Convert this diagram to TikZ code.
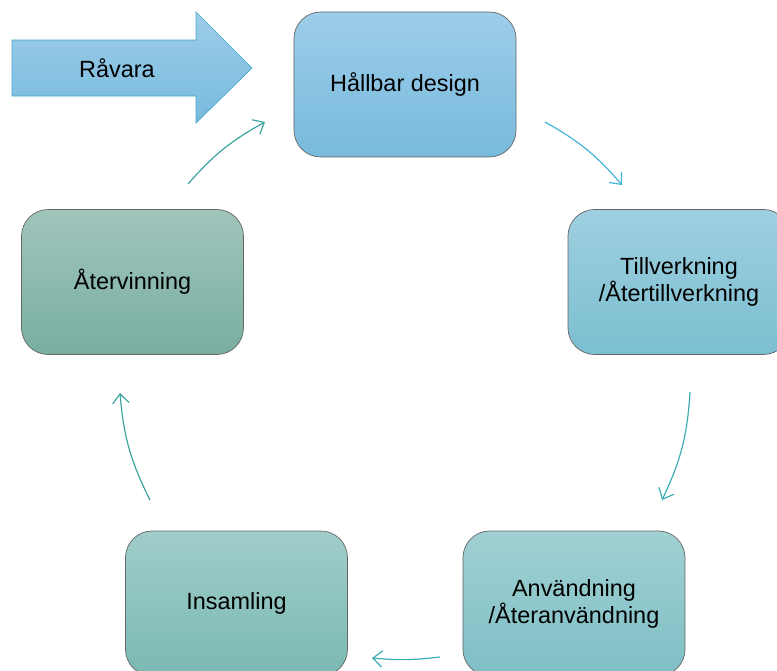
\documentclass[tikz,border=0pt]{standalone}
\usepackage{fontspec}
\setmainfont{Liberation Sans}
\usepackage{tikz}
\usepackage{xcolor}
\usetikzlibrary{arrows.meta,positioning,shapes}
\definecolor{skyTop}{HTML}{9DCDE9}
\definecolor{skyBot}{HTML}{78BADD}
\definecolor{makeTop}{HTML}{9ECFE0}
\definecolor{makeBot}{HTML}{7BBFD0}
\definecolor{useTop}{HTML}{A0D0D3}
\definecolor{useBot}{HTML}{7EBFC5}
\definecolor{collectTop}{HTML}{A0CDC9}
\definecolor{collectBot}{HTML}{7BB9B3}
\definecolor{recycleTop}{HTML}{A0C5BB}
\definecolor{recycleBot}{HTML}{79AEA2}
\definecolor{lineBlue}{HTML}{42B3DA}
\definecolor{lineTeal}{HTML}{3AACB4}
\definecolor{lineGreen}{HTML}{3AA39C}
\definecolor{rimBlue}{HTML}{45A8CC}
\tikzset{%
	stage/.style 2 args = {draw=black!60, line width=0.6pt, rectangle, rounded corners=0.8cm, minimum width=6.66cm, minimum height=4.35cm, text centered, align=center, top color=#1, bottom color=#2, font=\fontsize{20}{23}\selectfont},
	flow/.style         = {line width=1pt, -{Straight Barb[length=8pt,width=14pt]}},
}
\begin{document}
\begin{tikzpicture}[x=0.03cm,y=-0.03cm]
		\useasboundingbox (0,0) rectangle (777,671);
		\clip (0,0) rectangle (777,671);
		% input arrow
		\path[draw=rimBlue, line width=0.6pt, top color=skyTop, bottom color=skyBot]
			(12,40) -- (196,40) -- (196,12) -- (252,68) -- (196,123) -- (196,96) -- (12,96) -- cycle;
		\node[font=\fontsize{20}{23}\selectfont] (raw) at (117,68) {Råvara};
		% stages
		\node[stage={skyTop}{skyBot}] (design) at (405,84.5) {Hållbar design};
		\node[stage={makeTop}{makeBot}] (make) at (679,282) {Tillverkning\\/Återtillverkning};
		\node[stage={useTop}{useBot}] (use) at (574,603.5) {Användning\\/Återanvändning};
		\node[stage={collectTop}{collectBot}] (collect) at (236.5,603.5) {Insamling};
		\node[stage={recycleTop}{recycleBot}] (recycle) at (132.5,282) {Återvinning};
		% cycle arrows
		\coordinate (a1) at (545,122);   \coordinate (b1) at (622,185);
		\coordinate (a2) at (690,392);   \coordinate (b2) at (662,500);
		\coordinate (a3) at (440,657);   \coordinate (b3) at (372,658);
		\coordinate (a4) at (150,500);   \coordinate (b4) at (120,393);
		\coordinate (a5) at (188,184);   \coordinate (b5) at (265,122);
		\draw[flow,lineBlue] (a1) to[bend left=10] (b1);
		\draw[flow,lineTeal] (a2) to[bend left=11] (b2);
		\draw[flow,lineTeal] (a3) to[bend left=6] (b3);
		\draw[flow,lineGreen] (a4) to[bend left=11] (b4);
		\draw[flow,lineGreen] (a5) to[bend left=10] (b5);
	\end{tikzpicture}
\end{document}
